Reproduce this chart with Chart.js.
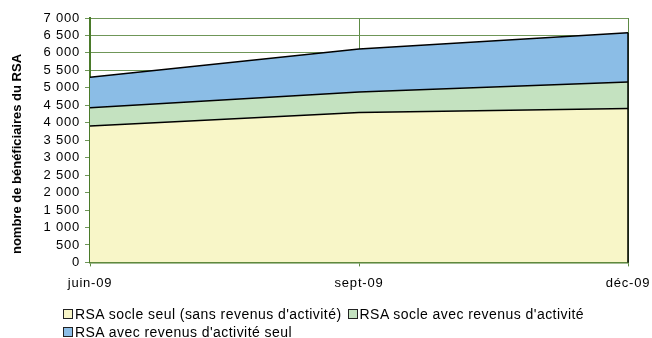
<!DOCTYPE html>
<html>
<head>
<meta charset="utf-8">
<script src="https://cdn.jsdelivr.net/npm/chart.js@4"></script>
<style>
  body { margin: 0; background: #fff; }
  #wrap { position: relative; width: 652px; height: 338px; }
  #legend { position: absolute; left: 63px; top: 305px; font: 14px "Liberation Sans", Arial, sans-serif; letter-spacing: 0.45px; color: #000; }
  #legend .row { height: 18px; line-height: 18px; white-space: nowrap; }
  #legend .item { display: inline-block; margin-right: 6px; }
  #legend .box { display: inline-block; width: 8px; height: 8px; border: 1px solid #222; margin-right: 2px; vertical-align: 0px; }
</style>
</head>
<body>
<div id="wrap">
  <canvas id="rsaChart" width="652" height="338"></canvas>
  <div id="legend"></div>
</div>
<script>
const months = ['juin-09', 'sept-09', 'déc-09'];
const socleSeul = [3910, 4290, 4410];
const socleActivite = [520, 590, 760];
const activiteSeul = [870, 1230, 1410];
const seriesNames = ["RSA socle seul (sans revenus d'activité)", "RSA socle avec revenus d'activité", "RSA avec revenus d'activité seul"];
const seriesColors = ['#f8f6c8', '#c4e2c0', '#8bbde6'];

const fontFamily = '"Liberation Sans", Arial, sans-serif';
const yTitle = 'nombre de bénéficiaires du RSA';

// slightly wider text like the office renderer
const spacing = {
    id: 'spacing',
    beforeInit(chart) { chart.ctx.letterSpacing = '0.8px'; },
    beforeDraw(chart) { chart.ctx.letterSpacing = '0.8px'; }
};

// black edge on the right side of the stacked areas + vertical axis title
const extras = {
    id: 'extras',
    afterDatasetsDraw(chart) {
        const { ctx, scales } = chart;
        const last = months.length - 1;
        const total = socleSeul[last] + socleActivite[last] + activiteSeul[last];
        const x = scales.x.getPixelForValue(last);
        ctx.save();
        ctx.strokeStyle = '#000';
        ctx.lineWidth = 1.5;
        ctx.beginPath();
        ctx.moveTo(x, scales.y.getPixelForValue(0));
        ctx.lineTo(x, scales.y.getPixelForValue(total));
        ctx.stroke();
        ctx.restore();
    },
    afterDraw(chart) {
        const ctx = chart.ctx;
        ctx.save();
        ctx.translate(17, 154);
        ctx.rotate(-Math.PI / 2);
        ctx.font = 'bold 13px ' + fontFamily;
        ctx.letterSpacing = '0px';
        ctx.fillStyle = '#000';
        ctx.textAlign = 'center';
        ctx.textBaseline = 'middle';
        ctx.fillText(yTitle, 0, 0);
        ctx.restore();
    }
};

const chart = new Chart(document.getElementById('rsaChart').getContext('2d'), {
    type: 'line',
    data: {
        labels: months,
        datasets: [socleSeul, socleActivite, activiteSeul].map((values, i) => ({
            label: seriesNames[i],
            data: values,
            backgroundColor: seriesColors[i],
            borderColor: '#000',
            borderWidth: 1.5,
            pointRadius: 0,
            tension: 0,
            fill: i === 0 ? 'origin' : '-1'
        }))
    },
    options: {
        responsive: false,
        animation: false,
        layout: { padding: { top: 18, right: 0, bottom: 38, left: 0 } },
        plugins: {
            legend: { display: false },
            tooltip: { enabled: false }
        },
        scales: {
            x: {
                offset: false,
                grid: { color: '#5d8a45', lineWidth: 1, drawTicks: true, tickLength: 4 },
                border: { color: '#4a7a2a', width: 1.5 },
                ticks: { color: '#000', font: { family: fontFamily, size: 13 }, maxRotation: 0, autoSkip: false, padding: 9 },
                afterFit(scale) { scale.paddingRight = 24; }
            },
            y: {
                stacked: true,
                min: 0,
                max: 7000,
                grid: { color: '#6f9658', lineWidth: 1, tickLength: 5 },
                border: { color: '#4a7a2a', width: 2 },
                ticks: {
                    stepSize: 500,
                    autoSkip: false,
                    color: '#000',
                    padding: 5,
                    font: { family: fontFamily, size: 13 },
                    callback: v => v >= 1000 ? Math.floor(v / 1000) + ' ' + String(v % 1000).padStart(3, '0') : String(v)
                },
                afterFit(scale) { scale.width = 90; }
            }
        }
    },
    plugins: [spacing, extras]
});

// legend rows below the chart
const legend = document.getElementById('legend');
[[0, 1], [2]].forEach(row => {
    const div = document.createElement('div');
    div.className = 'row';
    row.forEach(i => {
        const item = document.createElement('span');
        item.className = 'item';
        item.innerHTML = `<span class="box" style="background:${seriesColors[i]}"></span>${seriesNames[i]}`;
        div.appendChild(item);
    });
    legend.appendChild(div);
});
</script>
</body>
</html>
